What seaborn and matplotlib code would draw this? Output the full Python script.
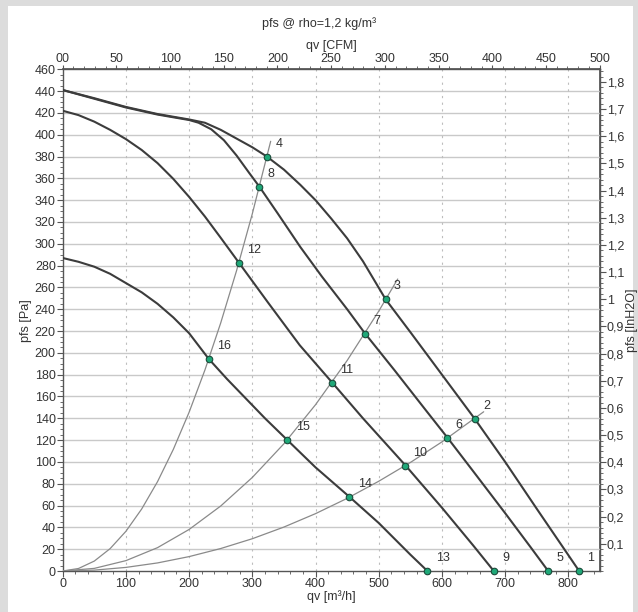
import numpy as np
import pandas as pd
import seaborn as sns
import matplotlib
matplotlib.use("Agg")
import matplotlib.pyplot as plt
from matplotlib.patches import Rectangle
from matplotlib.ticker import MultipleLocator, FuncFormatter, FixedLocator

# ---------------- data ----------------
# fan curves: qv [m3/h] and pfs [Pa]
fan1_qv = [0, 50, 100, 150, 200, 225, 250, 275, 300, 323, 350, 376, 400, 425, 450, 475, 511, 550, 600, 652, 700, 750, 790, 817]
fan1_pa = [441, 433.5, 425.5, 419, 414, 411, 404.5, 396.5, 388.5, 380, 368, 354, 340, 323, 305, 284, 249, 219, 180, 139.4, 100, 57, 23, 0]

fan2_qv = [0, 50, 100, 150, 200, 215, 235, 255, 275, 295, 311, 340, 376, 410, 450, 478, 525, 575, 609, 650, 700, 740, 768]
fan2_pa = [441, 433, 425, 418.5, 413.5, 411, 405, 395, 381, 365, 352.5, 328, 297, 270, 240, 218, 184, 147, 122, 91, 53, 22, 0]

fan3_qv = [0, 25, 50, 75, 100, 125, 150, 175, 200, 225, 250, 279, 325, 375, 426, 475, 542, 600, 650, 682]
fan3_pa = [422, 418, 412, 404.5, 396, 386, 374, 359.5, 343, 325, 305.5, 282.5, 246, 207, 173, 140, 97, 58, 23, 0]

fan4_qv = [0, 25, 50, 75, 100, 125, 150, 175, 200, 231, 260, 290, 320, 355.5, 400, 453.6, 500, 550, 577]
fan4_pa = [287, 283.5, 279, 272.5, 264, 255.5, 245, 232.5, 218, 194.5, 176, 158, 140, 120, 95, 68, 44, 15, 0]

# system curves
sys1_qv = [0, 25, 50, 75, 100, 125, 150, 175, 200, 225, 250, 275, 300, 329]
sys1_pa = [0, 2.3, 9.1, 20.5, 36.4, 56.9, 81.9, 111.5, 145.6, 184.3, 227.5, 275.3, 327.6, 394]

sys2_qv = [0, 50, 100, 150, 200, 250, 300, 350, 400, 450, 500, 530]
sys2_pa = [0, 2.4, 9.5, 21.4, 38.1, 59.6, 85.8, 116.7, 152.5, 193, 238.3, 267.7]

sys3_qv = [0, 50, 100, 150, 200, 250, 300, 350, 400, 450, 500, 550, 600, 666]
sys3_pa = [0, 0.8, 3.3, 7.4, 13.2, 20.6, 29.6, 40.3, 52.6, 66.6, 82.3, 99.5, 118.4, 146]

# operating points 1..16
pt_id = [1, 2, 3, 4, 5, 6, 7, 8, 9, 10, 11, 12, 13, 14, 15, 16]
pt_qv = [817, 652.4, 511, 323, 768, 608.6, 478, 311, 682.5, 541.7, 425.6, 279, 577, 453.6, 355.5, 231]
pt_pa = [0, 139.4, 249, 380, 0, 121.7, 217.6, 352.5, 0, 96.6, 172.7, 282.5, 0, 68.1, 120, 194.5]

left_ticks = list(range(0, 461, 20))
bottom_ticks = [0, 100, 200, 300, 400, 500, 600, 700, 800]
top_ticks = [0, 50, 100, 150, 200, 250, 300, 350, 400, 450, 500]
right_ticks = [0.1, 0.2, 0.3, 0.4, 0.5, 0.6, 0.7, 0.8, 0.9, 1.0, 1.1, 1.2, 1.3, 1.4, 1.5, 1.6, 1.7, 1.8]

CFM = 1.699
INH2O = 249.09

# ---------------- figure ----------------
sns.set_theme(style="white")
plt.rcParams["font.family"] = ["Liberation Sans", "DejaVu Sans"]
plt.rcParams["font.size"] = 9

W, H = 638, 612
fig = plt.figure(figsize=(W / 100, H / 100), dpi=100, facecolor="#dcdcdc")
fig.patches.append(Rectangle((8 / W, 0), (633 - 8) / W, (H - 6) / H,
                             transform=fig.transFigure, facecolor="white",
                             edgecolor="none", zorder=-10))

x0, x1, y0, y1 = 62.7, 600, 571, 69.3
ax = fig.add_axes([x0 / W, (H - y0) / H, (x1 - x0) / W, (y0 - y1) / H])
ax.set_facecolor("white")

fan_color = "#3c3c3c"
sys_color = "#8a8a8a"

for q, p in [(sys1_qv, sys1_pa), (sys2_qv, sys2_pa), (sys3_qv, sys3_pa)]:
    sns.lineplot(x=q, y=p, sort=False, color=sys_color, lw=0.9, ax=ax, zorder=3)
for q, p in [(fan1_qv, fan1_pa), (fan2_qv, fan2_pa), (fan3_qv, fan3_pa), (fan4_qv, fan4_pa)]:
    sns.lineplot(x=q, y=p, sort=False, color=fan_color, lw=1.5, ax=ax, zorder=4)

pts = pd.DataFrame({"id": pt_id, "qv": pt_qv, "pa": pt_pa})
sns.scatterplot(data=pts, x="qv", y="pa", ax=ax, marker="o", s=22,
                color="#1fa878", edgecolor="#1b4a3a", linewidth=0.8,
                zorder=6, clip_on=False)
for i, q, p in zip(pt_id, pt_qv, pt_pa):
    ax.annotate(str(i), (q, p), xytext=(6, 5), textcoords="offset points",
                ha="left", va="bottom", fontsize=9, color="#333333", zorder=7)

ax.set_xlim(0, 850)
ax.set_ylim(0, 460)

# grid
ax.set_yticks(left_ticks)
ax.yaxis.set_minor_locator(MultipleLocator(5))
ax.set_xticks(bottom_ticks)
ax.xaxis.set_minor_locator(MultipleLocator(20))
for v in left_ticks[1:-1]:
    ax.axhline(v, color="#c9c9c9", lw=1.0, zorder=1)
for v in bottom_ticks[1:]:
    ax.axvline(v, color="#bdbdbd", lw=0.8, ls=(0, (2, 4)), zorder=1)
ax.grid(False)

for s in ax.spines.values():
    s.set_color("#555555")
    s.set_linewidth(1.0)
    s.set_visible(True)

ax.tick_params(axis="both", which="major", direction="out", length=4, width=0.8,
               color="#555555", labelcolor="#333333", labelsize=9, pad=1)
ax.tick_params(axis="both", which="minor", direction="out", length=2, width=0.6,
               color="#555555")
ax.tick_params(axis="both", which="both", left=True, bottom=True)
ax.set_xlabel("qv [m³/h]", fontsize=9, color="#333333", labelpad=0)
ax.set_ylabel("pfs [Pa]", fontsize=9, color="#333333", labelpad=2)

# top CFM axis
top = ax.secondary_xaxis("top", functions=(lambda q: q / CFM, lambda c: c * CFM))
top.xaxis.set_major_locator(FixedLocator(top_ticks))
top.xaxis.set_minor_locator(MultipleLocator(10))
top.xaxis.set_major_formatter(FuncFormatter(lambda v, p: "00" if abs(v) < 1e-6 else f"{v:.0f}"))
top.tick_params(axis="x", which="major", direction="out", length=3, width=0.8,
                color="#555555", labelcolor="#333333", labelsize=9, pad=0)
top.tick_params(axis="x", which="minor", direction="out", length=2, width=0.6, color="#555555")
top.spines["top"].set_color("#555555")
top.set_xlabel("qv [CFM]", fontsize=9, color="#333333", labelpad=3)

# right inH2O axis
right = ax.secondary_yaxis("right", functions=(lambda p: p / INH2O, lambda w: w * INH2O))
right.yaxis.set_major_locator(FixedLocator(right_ticks))
right.yaxis.set_minor_locator(MultipleLocator(0.02))
right.yaxis.set_major_formatter(FuncFormatter(lambda v, p: f"{round(v, 2):g}".replace(".", ",")))
right.tick_params(axis="y", which="major", direction="out", length=4, width=0.8,
                  color="#555555", labelcolor="#333333", labelsize=9, pad=1)
right.tick_params(axis="y", which="minor", direction="out", length=2, width=0.6, color="#555555")
right.spines["right"].set_color("#555555")
right.set_ylabel("pfs [InH2O]", fontsize=9, color="#333333", labelpad=1)

fig.text(0.5, 1 - 24 / H, "pfs @ rho=1,2 kg/m³", ha="center", va="center",
         fontsize=9, color="#333333")

fig.savefig("out.png", dpi=100, facecolor=fig.get_facecolor())
